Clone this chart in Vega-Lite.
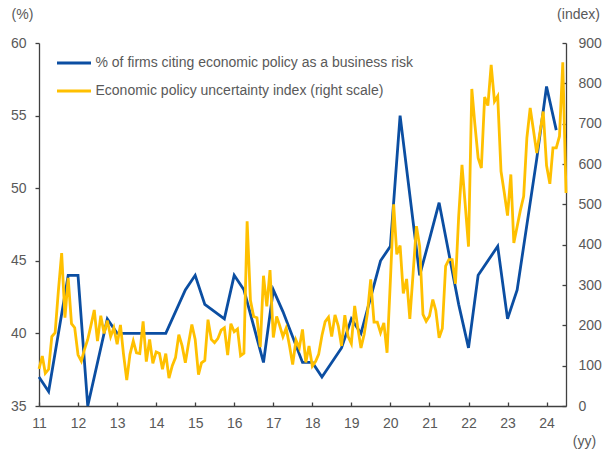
{
  "$schema": "https://vega.github.io/schema/vega-lite/v6.json",
  "width": 527,
  "height": 363,
  "autosize": {"type": "none"},
  "padding": {"left": 39, "top": 43, "right": 39, "bottom": 48},
  "config": {
    "view": {"stroke": null},
    "font": "Liberation Sans",
    "axis": {
      "grid": false,
      "domainColor": "#404040",
      "tickColor": "#404040",
      "domainWidth": 1.3,
      "tickWidth": 1.3,
      "labelColor": "#595959",
      "titleColor": "#595959",
      "labelFontSize": 14,
      "titleFontSize": 14,
      "titleFontWeight": "normal",
      "labelFont": "Liberation Sans",
      "titleFont": "Liberation Sans"
    },
    "legend": {"labelFont": "Liberation Sans"}
  },
  "datasets": {
    "firms": [
      {"date": "2011-01-01", "pct": 37}, {"date": "2011-04-01", "pct": 36}, {"date": "2011-10-01", "pct": 44},
      {"date": "2012-01-01", "pct": 44}, {"date": "2012-04-01", "pct": 35}, {"date": "2012-10-01", "pct": 41},
      {"date": "2013-01-01", "pct": 40}, {"date": "2013-04-01", "pct": 40}, {"date": "2013-10-01", "pct": 40},
      {"date": "2014-01-01", "pct": 40}, {"date": "2014-04-01", "pct": 40}, {"date": "2014-10-01", "pct": 43},
      {"date": "2015-01-01", "pct": 44}, {"date": "2015-04-01", "pct": 42}, {"date": "2015-10-01", "pct": 41},
      {"date": "2016-01-01", "pct": 44}, {"date": "2016-04-01", "pct": 43}, {"date": "2016-10-01", "pct": 38},
      {"date": "2017-01-01", "pct": 43}, {"date": "2017-04-01", "pct": 41.5}, {"date": "2017-10-01", "pct": 38},
      {"date": "2018-01-01", "pct": 38}, {"date": "2018-04-01", "pct": 37}, {"date": "2018-10-01", "pct": 39},
      {"date": "2019-01-01", "pct": 41}, {"date": "2019-04-01", "pct": 40}, {"date": "2019-10-01", "pct": 45},
      {"date": "2020-01-01", "pct": 46}, {"date": "2020-04-01", "pct": 55}, {"date": "2020-10-01", "pct": 44},
      {"date": "2021-01-01", "pct": 46.5}, {"date": "2021-04-01", "pct": 49}, {"date": "2021-10-01", "pct": 42},
      {"date": "2022-01-01", "pct": 39}, {"date": "2022-04-01", "pct": 44}, {"date": "2022-10-01", "pct": 46},
      {"date": "2023-01-01", "pct": 41}, {"date": "2023-04-01", "pct": 43}, {"date": "2023-10-01", "pct": 52},
      {"date": "2024-01-01", "pct": 57}, {"date": "2024-04-01", "pct": 54}
    ],
    "epu": [
      {"date": "2011-01-01", "idx": 92}, {"date": "2011-02-01", "idx": 124}, {"date": "2011-03-01", "idx": 81}, {"date": "2011-04-01", "idx": 91}, {"date": "2011-05-01", "idx": 172}, {"date": "2011-06-01", "idx": 182}, {"date": "2011-07-01", "idx": 285}, {"date": "2011-08-01", "idx": 379}, {"date": "2011-09-01", "idx": 219}, {"date": "2011-10-01", "idx": 318}, {"date": "2011-11-01", "idx": 204}, {"date": "2011-12-01", "idx": 194},
      {"date": "2012-01-01", "idx": 127}, {"date": "2012-02-01", "idx": 111}, {"date": "2012-03-01", "idx": 140}, {"date": "2012-04-01", "idx": 165}, {"date": "2012-05-01", "idx": 200}, {"date": "2012-06-01", "idx": 238}, {"date": "2012-07-01", "idx": 161}, {"date": "2012-08-01", "idx": 224}, {"date": "2012-09-01", "idx": 180}, {"date": "2012-10-01", "idx": 212}, {"date": "2012-11-01", "idx": 172}, {"date": "2012-12-01", "idx": 194},
      {"date": "2013-01-01", "idx": 153}, {"date": "2013-02-01", "idx": 201}, {"date": "2013-03-01", "idx": 130}, {"date": "2013-04-01", "idx": 64}, {"date": "2013-05-01", "idx": 128}, {"date": "2013-06-01", "idx": 161}, {"date": "2013-07-01", "idx": 132}, {"date": "2013-08-01", "idx": 130}, {"date": "2013-09-01", "idx": 210}, {"date": "2013-10-01", "idx": 110}, {"date": "2013-11-01", "idx": 165}, {"date": "2013-12-01", "idx": 106},
      {"date": "2014-01-01", "idx": 134}, {"date": "2014-02-01", "idx": 130}, {"date": "2014-03-01", "idx": 91}, {"date": "2014-04-01", "idx": 130}, {"date": "2014-05-01", "idx": 69}, {"date": "2014-06-01", "idx": 100}, {"date": "2014-07-01", "idx": 120}, {"date": "2014-08-01", "idx": 177}, {"date": "2014-09-01", "idx": 149}, {"date": "2014-10-01", "idx": 107}, {"date": "2014-11-01", "idx": 157}, {"date": "2014-12-01", "idx": 202},
      {"date": "2015-01-01", "idx": 165}, {"date": "2015-02-01", "idx": 78}, {"date": "2015-03-01", "idx": 107}, {"date": "2015-04-01", "idx": 113}, {"date": "2015-05-01", "idx": 214}, {"date": "2015-06-01", "idx": 165}, {"date": "2015-07-01", "idx": 157}, {"date": "2015-08-01", "idx": 167}, {"date": "2015-09-01", "idx": 188}, {"date": "2015-10-01", "idx": 194}, {"date": "2015-11-01", "idx": 126}, {"date": "2015-12-01", "idx": 204},
      {"date": "2016-01-01", "idx": 184}, {"date": "2016-02-01", "idx": 191}, {"date": "2016-03-01", "idx": 125}, {"date": "2016-04-01", "idx": 131}, {"date": "2016-05-01", "idx": 458}, {"date": "2016-06-01", "idx": 262}, {"date": "2016-07-01", "idx": 222}, {"date": "2016-08-01", "idx": 219}, {"date": "2016-09-01", "idx": 146}, {"date": "2016-10-01", "idx": 323}, {"date": "2016-11-01", "idx": 247}, {"date": "2016-12-01", "idx": 337},
      {"date": "2017-01-01", "idx": 170}, {"date": "2017-02-01", "idx": 222}, {"date": "2017-03-01", "idx": 200}, {"date": "2017-04-01", "idx": 172}, {"date": "2017-05-01", "idx": 193}, {"date": "2017-06-01", "idx": 150}, {"date": "2017-07-01", "idx": 103}, {"date": "2017-08-01", "idx": 163}, {"date": "2017-09-01", "idx": 144}, {"date": "2017-10-01", "idx": 190}, {"date": "2017-11-01", "idx": 108}, {"date": "2017-12-01", "idx": 149},
      {"date": "2018-01-01", "idx": 99}, {"date": "2018-02-01", "idx": 111}, {"date": "2018-03-01", "idx": 128}, {"date": "2018-04-01", "idx": 175}, {"date": "2018-05-01", "idx": 209}, {"date": "2018-06-01", "idx": 220}, {"date": "2018-07-01", "idx": 172}, {"date": "2018-08-01", "idx": 226}, {"date": "2018-09-01", "idx": 198}, {"date": "2018-10-01", "idx": 149}, {"date": "2018-11-01", "idx": 225}, {"date": "2018-12-01", "idx": 173},
      {"date": "2019-01-01", "idx": 155}, {"date": "2019-02-01", "idx": 248}, {"date": "2019-03-01", "idx": 196}, {"date": "2019-04-01", "idx": 144}, {"date": "2019-05-01", "idx": 178}, {"date": "2019-06-01", "idx": 231}, {"date": "2019-07-01", "idx": 314}, {"date": "2019-08-01", "idx": 208}, {"date": "2019-09-01", "idx": 208}, {"date": "2019-10-01", "idx": 182}, {"date": "2019-11-01", "idx": 206}, {"date": "2019-12-01", "idx": 132},
      {"date": "2020-01-01", "idx": 310}, {"date": "2020-02-01", "idx": 500}, {"date": "2020-03-01", "idx": 376}, {"date": "2020-04-01", "idx": 398}, {"date": "2020-05-01", "idx": 279}, {"date": "2020-06-01", "idx": 315}, {"date": "2020-07-01", "idx": 216}, {"date": "2020-08-01", "idx": 330}, {"date": "2020-09-01", "idx": 446}, {"date": "2020-10-01", "idx": 396}, {"date": "2020-11-01", "idx": 227}, {"date": "2020-12-01", "idx": 210},
      {"date": "2021-01-01", "idx": 223}, {"date": "2021-02-01", "idx": 264}, {"date": "2021-03-01", "idx": 237}, {"date": "2021-04-01", "idx": 169}, {"date": "2021-05-01", "idx": 192}, {"date": "2021-06-01", "idx": 347}, {"date": "2021-07-01", "idx": 363}, {"date": "2021-08-01", "idx": 363}, {"date": "2021-09-01", "idx": 303}, {"date": "2021-10-01", "idx": 470}, {"date": "2021-11-01", "idx": 598}, {"date": "2021-12-01", "idx": 500},
      {"date": "2022-01-01", "idx": 395}, {"date": "2022-02-01", "idx": 786}, {"date": "2022-03-01", "idx": 700}, {"date": "2022-04-01", "idx": 615}, {"date": "2022-05-01", "idx": 590}, {"date": "2022-06-01", "idx": 766}, {"date": "2022-07-01", "idx": 745}, {"date": "2022-08-01", "idx": 846}, {"date": "2022-09-01", "idx": 755}, {"date": "2022-10-01", "idx": 768}, {"date": "2022-11-01", "idx": 582}, {"date": "2022-12-01", "idx": 530},
      {"date": "2023-01-01", "idx": 472}, {"date": "2023-02-01", "idx": 574}, {"date": "2023-03-01", "idx": 404}, {"date": "2023-04-01", "idx": 445}, {"date": "2023-05-01", "idx": 485}, {"date": "2023-06-01", "idx": 520}, {"date": "2023-07-01", "idx": 665}, {"date": "2023-08-01", "idx": 739}, {"date": "2023-09-01", "idx": 683}, {"date": "2023-10-01", "idx": 627}, {"date": "2023-11-01", "idx": 680}, {"date": "2023-12-01", "idx": 730},
      {"date": "2024-01-01", "idx": 596}, {"date": "2024-02-01", "idx": 551}, {"date": "2024-03-01", "idx": 640}, {"date": "2024-04-01", "idx": 640}, {"date": "2024-05-01", "idx": 669}, {"date": "2024-06-01", "idx": 852}, {"date": "2024-07-01", "idx": 528}
    ]
  },
  "layer": [
    {
      "data": {"name": "firms"},
      "mark": {"type": "line", "strokeWidth": 2.8, "clip": false},
      "encoding": {
        "x": {
          "field": "date",
          "type": "temporal",
          "scale": {"type": "utc", "domain": [{"year": 2011, "month": 1, "date": 1, "utc": true}, {"year": 2024, "month": 7, "date": 1, "utc": true}], "nice": false},
          "axis": {
            "orient": "bottom",
            "format": "%y",
            "tickCount": {"interval": "year", "step": 1},
            "tickSize": -4,
            "labelPadding": 14,
            "labelFlush": false,
            "labelOverlap": false,
            "title": "(yy)",
            "titleAlign": "center",
            "titleBaseline": "middle",
            "titleX": 545,
            "titleY": 35,
            "titleAngle": 0
          }
        },
        "y": {
          "field": "pct",
          "type": "quantitative",
          "scale": {"domain": [35, 60], "nice": false, "zero": false},
          "axis": {
            "orient": "left",
            "values": [35, 40, 45, 50, 55, 60],
            "tickSize": 4,
            "labelPadding": 9,
            "title": "(%)",
            "titleAngle": 0,
            "titleAlign": "center",
            "titleBaseline": "middle",
            "titleX": -17,
            "titleY": -29
          }
        },
        "color": {
          "datum": "% of firms citing economic policy as a business risk",
          "scale": {
            "domain": ["% of firms citing economic policy as a business risk", "Economic policy uncertainty index (right scale)"],
            "range": ["#0B4EA2", "#FFC000"]
          },
          "legend": {
            "orient": "none",
            "legendX": 25,
            "legendY": 10,
            "title": null,
            "padding": 0,
            "symbolType": "M-2,0H2",
            "symbolSize": 289,
            "symbolStrokeWidth": 3,
            "labelFontSize": 14,
            "labelColor": "#595959",
            "labelOffset": 11.5,
            "rowPadding": 11,
            "labelLimit": 600
          }
        }
      }
    },
    {
      "data": {"name": "epu"},
      "mark": {"type": "line", "strokeWidth": 2.8, "clip": false},
      "encoding": {
        "x": {"field": "date", "type": "temporal"},
        "y": {
          "field": "idx",
          "type": "quantitative",
          "scale": {"domain": [0, 900], "nice": false},
          "axis": {
            "orient": "right",
            "values": [0, 100, 200, 300, 400, 500, 600, 700, 800, 900],
            "tickSize": -4,
            "labelPadding": 16,
            "title": "(index)",
            "titleAngle": 0,
            "titleAlign": "center",
            "titleBaseline": "middle",
            "titleX": 12,
            "titleY": -29
          }
        },
        "color": {"datum": "Economic policy uncertainty index (right scale)"}
      }
    }
  ],
  "resolve": {"scale": {"y": "independent"}}
}
